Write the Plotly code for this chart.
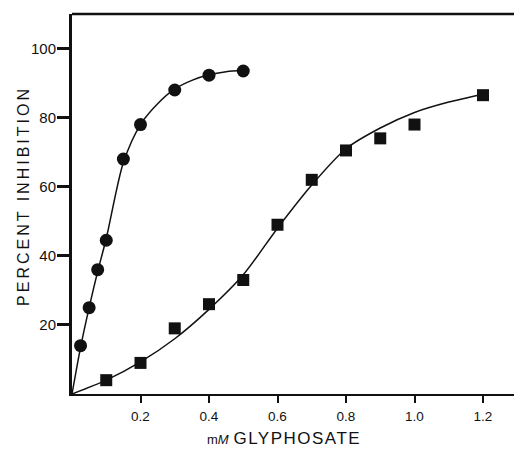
import plotly.graph_objects as go

# Circles series (observed)
circ_x = [0.025, 0.05, 0.075, 0.1, 0.15, 0.2, 0.3, 0.4, 0.5]
circ_y = [14, 25, 36, 44.5, 68, 78, 88, 92.3, 93.5]
# Circles fitted curve
circ_fit_x = [0, 0.025, 0.05, 0.075, 0.1, 0.15, 0.2, 0.25, 0.3, 0.35, 0.4, 0.45, 0.5]
circ_fit_y = [0, 13.5, 25, 35.5, 45, 67, 78, 84, 88.3, 90.8, 92.4, 93.3, 93.7]

# Squares series (observed)
sq_x = [0.1, 0.2, 0.3, 0.4, 0.5, 0.6, 0.7, 0.8, 0.9, 1.0, 1.2]
sq_y = [4, 9, 19, 26, 33, 49, 62, 70.5, 74, 78, 86.5]
# Squares fitted curve
sq_fit_x = [0, 0.1, 0.2, 0.3, 0.4, 0.5, 0.6, 0.7, 0.8, 0.9, 1.0, 1.1, 1.2]
sq_fit_y = [0, 4, 9.3, 16, 24.5, 34.5, 48, 60.5, 71, 77, 81.5, 84.5, 86.8]

x_ticks = [0.2, 0.4, 0.6, 0.8, 1.0, 1.2]
x_tick_labels = ["0.2", "0.4", "0.6", "0.8", "1.0", "1.2"]
y_ticks = [20, 40, 60, 80, 100]
y_tick_labels = ["20", "40", "60", "80", "100"]

FONT = "Liberation Sans, Arial, sans-serif"
INK = "#111111"

fig = go.Figure()
fig.add_trace(go.Scatter(x=circ_fit_x, y=circ_fit_y, mode="lines",
                         line=dict(color=INK, width=1.5, shape="spline", smoothing=0.8),
                         hoverinfo="skip", showlegend=False))
fig.add_trace(go.Scatter(x=sq_fit_x, y=sq_fit_y, mode="lines",
                         line=dict(color=INK, width=1.5, shape="spline", smoothing=0.8),
                         hoverinfo="skip", showlegend=False))
fig.add_trace(go.Scatter(x=circ_x, y=circ_y, mode="markers",
                         marker=dict(symbol="circle", size=13, color=INK, line=dict(width=0)),
                         showlegend=False))
fig.add_trace(go.Scatter(x=sq_x, y=sq_y, mode="markers",
                         marker=dict(symbol="square", size=12, color=INK, line=dict(width=0)),
                         showlegend=False))

fig.update_layout(
    width=514, height=449,
    margin=dict(l=72, r=0, t=14, b=55),
    paper_bgcolor="white", plot_bgcolor="white",
    font=dict(family=FONT, color=INK, size=14),
    xaxis=dict(range=[0, 1.2905], tickvals=x_ticks, ticktext=x_tick_labels,
               showgrid=False, zeroline=False, showline=True, linecolor=INK, linewidth=2,
               ticks="outside", ticklen=7, tickwidth=2, tickcolor=INK,
               ticklabelstandoff=2,
               tickfont=dict(size=13.5, family=FONT)),
    yaxis=dict(range=[0, 110], tickvals=y_ticks, ticktext=y_tick_labels,
               showgrid=False, zeroline=False, showline=True, linecolor=INK, linewidth=3,
               ticks="outside", ticklen=12, tickwidth=3, tickcolor=INK,
               ticklabelstandoff=-2,
               tickfont=dict(size=15, family=FONT)),
    shapes=[dict(type="line", xref="paper", yref="paper", x0=0, x1=1, y0=1, y1=1,
                 line=dict(color=INK, width=2.5))],
    annotations=[
        dict(text="<span style='letter-spacing:3px'>PERCENT INHIBITION</span>",
             xref="paper", yref="paper",
             x=-0.111, y=0.521, textangle=-90, showarrow=False,
             xanchor="center", yanchor="middle",
             font=dict(size=16, family=FONT, color=INK)),
        dict(text="<span style='font-size:13px'>m<i>M</i></span> <span style='letter-spacing:1.5px'>GLYPHOSATE</span>",
             xref="paper", yref="paper", x=0.479, y=-0.116, showarrow=False,
             xanchor="center", yanchor="middle",
             font=dict(size=17, family=FONT, color=INK)),
    ],
)

fig.write_html("out.html",
               config={"displayModeBar": False, "staticPlot": True},
               post_script="document.body.style.margin='0px';document.body.style.overflow='hidden';")
